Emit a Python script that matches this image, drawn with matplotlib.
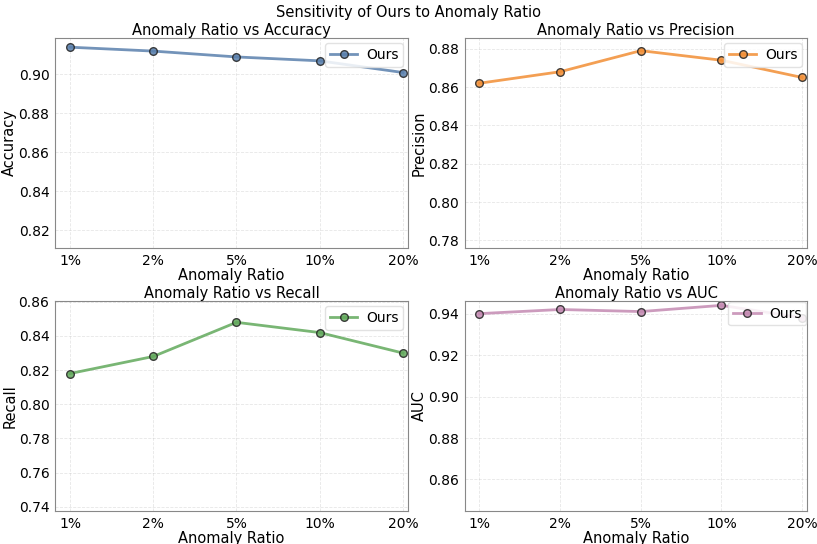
import numpy as np
import matplotlib
matplotlib.use("Agg")
import matplotlib.pyplot as plt

# -----------------------------
# Data
# -----------------------------
ratios = ["1%", "2%", "5%", "10%", "20%"]

accuracy = [0.914, 0.912, 0.909, 0.907, 0.901]
precision = [0.862, 0.868, 0.879, 0.874, 0.865]
recall = [0.818, 0.828, 0.848, 0.842, 0.830]
auc = [0.940, 0.942, 0.941, 0.944, 0.938]

metric_names = ["Accuracy", "Precision", "Recall", "AUC"]
metric_values = [accuracy, precision, recall, auc]
colors = ["#5a80ad", "#f28e35", "#62a95c", "#c48ab2"]
ylims = [(0.811, 0.9187), (0.776, 0.8856), (0.7375, 0.8605), (0.8448, 0.9461)]
yticks = [
    [0.82, 0.84, 0.86, 0.88, 0.90],
    [0.78, 0.80, 0.82, 0.84, 0.86, 0.88],
    [0.74, 0.76, 0.78, 0.80, 0.82, 0.84, 0.86],
    [0.86, 0.88, 0.90, 0.92, 0.94],
]

# axes boxes [left, bottom, width, height] in figure fractions
positions = [
    [0.0673, 0.5441, 0.4321, 0.3860],
    [0.5690, 0.5441, 0.4188, 0.3860],
    [0.0673, 0.0607, 0.4321, 0.3860],
    [0.5690, 0.0607, 0.4188, 0.3860],
]
legend_pads = [0.35, 0.35, 0.35, 0.05]

# -----------------------------
# Plot
# -----------------------------
fig, axes = plt.subplots(2, 2, figsize=(8.17, 5.44), dpi=100)

x = np.arange(len(ratios))
for ax, pos, name, vals, c, lim, ticks, lpad in zip(
        axes.flat, positions, metric_names, metric_values, colors, ylims,
        yticks, legend_pads):
    ax.set_position(pos)
    ax.plot(x, vals, color=c, linewidth=2, marker="o", markersize=5.5,
            markerfacecolor=c, markeredgecolor="#222222", markeredgewidth=1,
            alpha=0.85, label="Ours")
    ax.set_title(f"Anomaly Ratio vs {name}", fontsize=10.5, pad=2)
    ax.set_xlabel("Anomaly Ratio", fontsize=10.5, labelpad=0)
    ax.set_ylabel(name, fontsize=10.5, labelpad=1)
    ax.set_xticks(x)
    ax.set_xticklabels(ratios)
    ax.set_yticks(ticks)
    ax.set_ylim(*lim)
    ax.set_xlim(-0.18, 4.06)
    ax.tick_params(labelsize=10, length=0, pad=4)
    ax.grid(True, linestyle="--", linewidth=0.6, alpha=0.3)
    for sp in ax.spines.values():
        sp.set_color("#888888")
    ax.legend(loc="upper right", fontsize=10, framealpha=0.85,
              edgecolor="#dddddd", borderaxespad=lpad, borderpad=0.35,
              handlelength=2.0, handletextpad=0.6)

fig.suptitle("Sensitivity of Ours to Anomaly Ratio", fontsize=10.5, y=0.99)

fig.savefig("out.png", dpi=100)
